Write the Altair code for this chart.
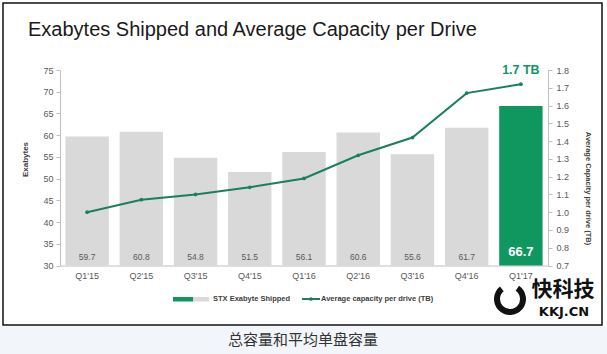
import altair as alt
import pandas as pd

quarters = ["Q1'15", "Q2'15", "Q3'15", "Q4'15", "Q1'16", "Q2'16", "Q3'16", "Q4'16", "Q1'17"]
exabytes = [59.7, 60.8, 54.8, 51.5, 56.1, 60.6, 55.6, 61.7, 66.7]
capacity = [1.00, 1.07, 1.10, 1.14, 1.19, 1.32, 1.42, 1.67, 1.72]
highlight = ["no"] * 8 + ["yes"]

left_ticks = [30, 35, 40, 45, 50, 55, 60, 65, 70, 75]
right_ticks = [0.7, 0.8, 0.9, 1.0, 1.1, 1.2, 1.3, 1.4, 1.5, 1.6, 1.7, 1.8]

title_text = "Exabytes Shipped and Average Capacity per Drive"
annot_text = "1.7 TB"
legend_bar = "STX Exabyte Shipped"
legend_line = "Average capacity per drive (TB)"
caption_text = "总容量和平均单盘容量"
left_title = "Exabytes"
right_title = "Average Capacity per drive (TB)"

GREEN = "#10965f"
LINE_GREEN = "#1a8059"
GRAY = "#d9d9d9"
LABEL = "#595959"
FONT = "Liberation Sans"

df = pd.DataFrame({"q": quarters, "eb": exabytes, "cap": capacity, "hl": highlight})
base = alt.Chart(df)

xenc = alt.X("q:N", sort=quarters, title=None,
             scale=alt.Scale(paddingInner=0.2, paddingOuter=0.1),
             axis=alt.Axis(labelFontSize=9, labelColor=LABEL, labelFont=FONT, ticks=False,
                           domainColor="#bfbfbf", labelPadding=6, labelAngle=0, labelOverlap=False))

yleft = alt.Scale(domain=[30, 75], zero=False, nice=False)
left_axis = alt.Axis(orient="left", values=left_ticks, labelFontSize=9, labelOverlap=False,
                     labelColor=LABEL, labelFont=FONT, tickColor="#bfbfbf", tickSize=4,
                     domainColor="#bfbfbf", labelPadding=3, grid=False, labelFlush=False,
                     title=left_title, titleFontSize=8, titleFont=FONT, titleColor="#404040",
                     titleFontWeight="bold", titleX=-35, titleY=89, titleAngle=270,
                     titleBaseline="middle", titleAlign="center")
bars = base.mark_bar().encode(
    x=xenc,
    y=alt.Y("eb:Q", scale=yleft, axis=left_axis),
    y2=alt.datum(30),
    color=alt.Color("hl:N", scale=alt.Scale(domain=["no", "yes"], range=[GRAY, GREEN]), legend=None),
)
vals_gray = base.transform_filter(alt.datum.hl == "no").mark_text(
    fontSize=8.5, color=LABEL, font=FONT, baseline="middle").encode(
    x=alt.X("q:N", sort=quarters), y=alt.Y(datum=32, scale=yleft, axis=left_axis),
    text=alt.Text("eb:Q", format=".1f"))
vals_hl = base.transform_filter(alt.datum.hl == "yes").mark_text(
    fontSize=13, color="white", font=FONT, fontWeight="bold", baseline="middle").encode(
    x=alt.X("q:N", sort=quarters), y=alt.Y(datum=33, scale=yleft, axis=left_axis),
    text=alt.Text("eb:Q", format=".1f"))

left_layer = alt.layer(bars, vals_gray, vals_hl)

yright = alt.Scale(domain=[0.7, 1.8], zero=False, nice=False)
right_axis = alt.Axis(orient="right", values=right_ticks, labelOverlap=False, labelFlush=False,
                      format=".1f", labelFontSize=9, labelColor=LABEL, labelFont=FONT,
                      tickColor="#bfbfbf", tickSize=4, domainColor="#bfbfbf", labelPadding=4,
                      grid=False, title=right_title, titleFontSize=7.5, titleFont=FONT,
                      titleColor="#404040", titleFontWeight="bold", titleX=39, titleY=118,
                      titleAngle=90, titleBaseline="middle", titleAlign="center")
line = base.mark_line(color=LINE_GREEN, strokeWidth=2,
                      point=alt.OverlayMarkDef(filled=True, size=14, color=LINE_GREEN)).encode(
    x=alt.X("q:N", sort=quarters),
    y=alt.Y("cap:Q", scale=yright, axis=right_axis),
)
annot = base.transform_filter(alt.datum.hl == "yes").mark_text(
    fontSize=12.5, color=GREEN, font=FONT, fontWeight="bold", baseline="middle", dy=-14).encode(
    x=alt.X("q:N", sort=quarters), y=alt.Y("cap:Q", scale=yright, axis=right_axis),
    text=alt.value(annot_text))
right_layer = alt.layer(line, annot)

one = pd.DataFrame({"k": [0]})
ob = alt.Chart(one)

band = ob.mark_rect(color="#f2f5f9").encode(
    x=alt.value(-60), x2=alt.value(547), y=alt.value(256), y2=alt.value(284.5))
frame = ob.mark_rect(fill=None, stroke="#111111", strokeWidth=1.5).encode(
    x=alt.value(-57), x2=alt.value(542), y=alt.value(-67), y2=alt.value(255))
title = ob.mark_text(fontSize=20, font=FONT, color="#1a1a1a", align="left", baseline="alphabetic").encode(
    x=alt.value(-32), y=alt.value(-34), text=alt.value(title_text))
sw1 = ob.mark_rect(color=GREEN).encode(x=alt.value(113), x2=alt.value(133), y=alt.value(227), y2=alt.value(231.5))
sw2 = ob.mark_rect(color=GRAY).encode(x=alt.value(133), x2=alt.value(149), y=alt.value(227), y2=alt.value(231.5))
lt1 = ob.mark_text(fontSize=7.5, font=FONT, fontWeight="bold", color="#404040", align="left", baseline="middle").encode(
    x=alt.value(153), y=alt.value(229), text=alt.value(legend_bar))
ll = ob.mark_rule(color=LINE_GREEN, strokeWidth=2).encode(
    x=alt.value(242), x2=alt.value(260), y=alt.value(229))
lp = ob.mark_point(filled=True, size=14, color=LINE_GREEN, opacity=1).encode(x=alt.value(251), y=alt.value(229))
lt2 = ob.mark_text(fontSize=7.5, font=FONT, fontWeight="bold", color="#404040", align="left", baseline="middle").encode(
    x=alt.value(261), y=alt.value(229), text=alt.value(legend_line))
caption = ob.mark_text(fontSize=15, font="Noto Sans CJK SC", color="#333333", align="center", baseline="middle").encode(
    x=alt.value(243), y=alt.value(270), text=alt.value(caption_text))
logo1 = ob.mark_text(fontSize=21, font="Noto Sans CJK SC", fontWeight="bold", color="#111111", align="center", baseline="middle").encode(
    x=alt.value(503), y=alt.value(220), text=alt.value("快科技"))
logo2 = ob.mark_text(fontSize=13, font="DejaVu Sans", fontWeight="bold", color="#111111", align="center", baseline="middle").encode(
    x=alt.value(504), y=alt.value(242), text=alt.value("KKJ.CN"))
icon = ob.mark_arc(color="#111111", innerRadius=10, outerRadius=16, theta=0.6, theta2=5.6).encode(
    x=alt.value(450), y=alt.value(229))

chart = alt.layer(
    band, frame, left_layer, right_layer, title, sw1, sw2, lt1, ll, lp, lt2, caption, logo1, logo2, icon
).resolve_scale(y="independent").properties(
    width=488, height=195.5, autosize="none",
    padding={"left": 60, "top": 70, "right": 59, "bottom": 88.5},
    background="white",
).configure_view(stroke=None)

chart.save("out.html", embed_options={"renderer": "svg", "actions": False})
